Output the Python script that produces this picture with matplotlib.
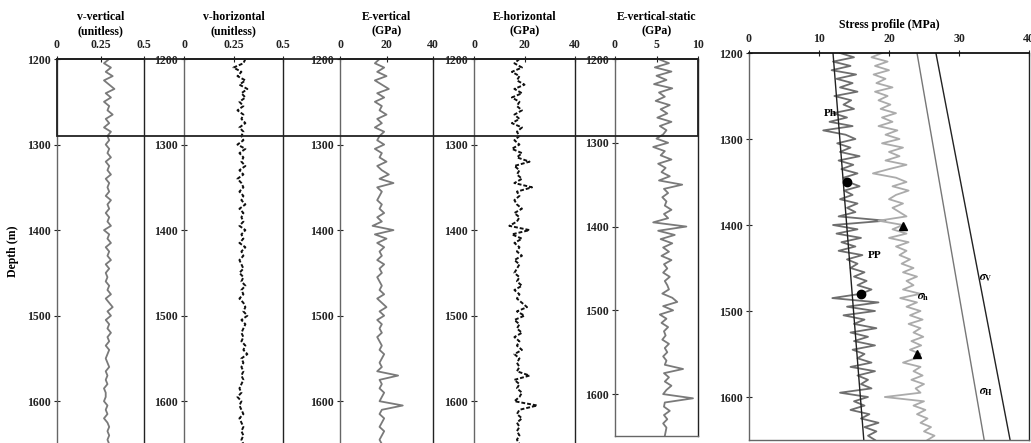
import numpy as np
import matplotlib
matplotlib.use("Agg")
import matplotlib.pyplot as plt
from matplotlib.patches import Rectangle

# ---------------- data ----------------
depth = np.arange(1200, 1655, 5)  # m, 91 samples

v_vertical = [0.30,0.27,0.31,0.28,0.32,0.27,0.30,0.33,0.28,0.31,0.27,0.30,0.29,0.32,0.28,0.30,0.27,0.31,0.29,
              0.30,0.28,0.30,0.29,0.31,0.28,0.30,0.29,0.31,0.28,0.30,0.29,0.30,0.28,0.31,0.29,0.30,0.28,0.30,0.29,
              0.31,0.27,0.30,0.29,0.31,0.28,0.30,0.29,0.31,0.28,0.30,0.28,0.29,0.28,0.30,0.29,0.31,0.28,0.30,0.32,
              0.29,0.31,0.28,0.30,0.29,0.31,0.29,0.30,0.28,0.30,0.29,0.28,0.29,0.30,0.28,0.29,0.28,0.29,0.27,0.28,
              0.28,0.27,0.29,0.28,0.29,0.27,0.29,0.30,0.29,0.30,0.29,0.30]

v_horizontal = [0.31,0.30,0.25,0.29,0.27,0.31,0.28,0.32,0.29,0.31,0.28,0.30,0.27,0.30,0.29,0.31,0.28,0.30,0.29,
                0.30,0.27,0.31,0.28,0.30,0.29,0.31,0.28,0.30,0.27,0.29,0.30,0.28,0.30,0.29,0.31,0.28,0.30,0.29,0.30,
                0.28,0.31,0.29,0.30,0.28,0.31,0.29,0.30,0.28,0.29,0.30,0.28,0.30,0.29,0.31,0.29,0.30,0.28,0.30,0.31,
                0.30,0.32,0.29,0.31,0.30,0.29,0.30,0.29,0.31,0.30,0.32,0.29,0.30,0.29,0.30,0.29,0.30,0.29,0.28,0.29,
                0.27,0.29,0.28,0.29,0.30,0.28,0.29,0.30,0.29,0.30,0.29,0.30]

e_vertical = [17,15,19,16,20,15,18,21,16,19,15,18,17,20,16,18,15,19,17,
              16,19,15,18,17,20,16,18,21,17,23,16,18,17,16,18,17,19,16,18,
              14,23,15,20,16,19,17,18,16,19,17,18,16,17,18,17,19,16,18,20,
              17,19,16,18,17,18,16,17,18,17,19,18,17,18,16,25,17,18,17,19,
              18,17,27,18,17,19,18,17,19,18,17,18]

e_horizontal = [18,16,19,15,18,17,20,16,19,15,18,17,19,16,18,15,19,17,18,
                16,18,15,19,17,22,16,18,17,19,16,23,17,18,16,17,19,16,18,17,
                14,22,15,19,16,18,17,19,16,18,17,16,18,17,19,16,18,17,19,21,
                17,20,16,18,17,19,16,18,17,19,16,18,17,18,17,22,16,18,17,19,
                18,16,25,18,17,19,17,18,17,18,17,18]

e_vertical_static = [5.2,6.5,4.8,6.8,5.0,6.2,4.7,6.9,5.3,6.0,4.9,6.6,5.5,6.3,5.1,6.8,5.4,6.2,5.8,
                     5.0,6.4,4.6,6.0,5.5,6.8,5.2,6.1,5.6,6.6,5.3,8.1,5.9,6.4,5.7,6.2,6.0,6.8,5.9,6.4,
                     4.6,8.6,5.2,7.2,5.5,6.9,5.8,6.5,5.6,6.8,5.9,6.3,5.8,6.6,6.0,6.3,6.5,5.7,6.9,7.5,
                     5.8,7.0,5.4,6.2,5.6,6.4,5.9,6.1,5.7,6.5,6.0,6.3,5.8,6.2,6.0,8.2,5.9,6.5,6.0,6.8,
                     6.2,5.8,9.4,6.0,5.9,6.6,5.9,6.3,5.8,6.2,6.1,6.0]

pore_pressure = [13.0,15.0,12.0,14.5,11.8,15.3,12.5,14.8,13.0,15.5,12.2,14.6,13.5,15.0,12.0,14.0,11.5,14.8,10.6,
                 13.8,15.2,12.6,14.5,13.0,15.8,12.8,14.9,13.2,15.5,13.5,14.2,15.8,13.6,14.8,13.0,15.5,14.0,15.2,12.8,
                 19.5,12.0,15.5,12.5,16.0,13.2,15.2,12.8,16.2,14.0,15.5,14.5,16.5,15.0,16.8,15.5,17.5,16.0,11.9,18.5,
                 14.0,18.0,13.5,16.5,15.0,18.2,14.5,17.0,15.0,18.0,14.8,16.5,15.5,17.5,14.5,18.0,15.5,17.0,16.0,17.5,
                 13.0,17.0,15.0,16.5,14.5,17.2,16.0,18.5,16.5,18.2,17.0,18.0]

sigma_h_log = [19.0,17.5,19.8,18.0,20.0,17.8,19.5,18.2,20.5,18.0,19.8,18.5,20.2,18.8,21.0,19.0,20.5,18.5,21.2,
               19.5,21.5,19.0,22.0,20.0,21.5,19.5,22.5,20.0,17.7,21.0,22.5,20.5,22.8,21.0,20.0,22.0,20.5,21.5,22.5,
               18.5,22.0,20.5,22.5,20.0,22.8,21.0,22.5,21.5,23.0,21.8,23.5,22.0,24.0,22.5,23.5,22.0,24.5,21.6,24.0,
               22.5,24.5,23.0,24.8,22.8,24.5,23.5,24.9,23.2,24.6,23.0,24.5,23.8,22.0,24.5,23.5,24.8,23.2,25.0,23.8,
               24.5,19.4,25.0,23.5,25.2,24.0,25.5,24.5,26.0,25.0,26.5,25.5]

line_depths = [1200, 1650]
ph_line = [12.0, 16.4]
sigma_H_line = [24.0, 33.6]
sigma_V_line = [26.7, 37.3]

circle_pts_x = [14.0, 16.0]
circle_pts_d = [1350, 1480]
triangle_pts_x = [22.0, 24.0]
triangle_pts_d = [1401, 1550]

panel_titles = ["v-vertical\n(unitless)", "v-horizontal\n(unitless)", "E-vertical\n(GPa)",
                "E-horizontal\n(GPa)", "E-vertical-static\n(GPa)"]
depth_ticks = [1200, 1300, 1400, 1500, 1600]

# ---------------- style ----------------
plt.rcParams['font.family'] = ['Liberation Serif', 'DejaVu Serif']
plt.rcParams['font.weight'] = 'bold'
plt.rcParams['mathtext.fontset'] = 'stix'

W, H = 1031, 443
fig = plt.figure(figsize=(W / 100, H / 100), dpi=100)


def pos(l, r, t, b):
    return [l / W, 1 - b / H, (r - l) / W, (b - t) / H]


GRAY = '#7a7a7a'
SPINE = '#666666'


def style_axis(ax, xlim, xticks, xlabels):
    ax.set_xlim(*xlim)
    ax.set_ylim(1650, 1200)
    ax.xaxis.tick_top()
    ax.set_xticks(xticks)
    ax.set_xticklabels(xlabels)
    ax.set_yticks(depth_ticks)
    ax.set_yticklabels([str(d) for d in depth_ticks])
    ax.tick_params(axis='both', direction='inout', length=5, width=0.8,
                   labelsize=8.5, colors='#222222')
    ax.tick_params(axis='x', top=True, bottom=False, pad=3)
    ax.tick_params(axis='y', pad=2)
    for s in ax.spines.values():
        s.set_color(SPINE)
        s.set_linewidth(1.0)
    ax.spines['right'].set_color('#222222')
    ax.spines['top'].set_color('#111111')
    ax.spines['top'].set_linewidth(1.3)


ax1 = fig.add_axes(pos(57, 144, 59, 444))
ax2 = fig.add_axes(pos(184, 283, 59, 444))
ax3 = fig.add_axes(pos(340, 433, 59, 444))
ax4 = fig.add_axes(pos(474, 575, 59, 444))
ax5 = fig.add_axes(pos(615, 698, 59, 436))
ax6 = fig.add_axes(pos(749, 1029, 53, 440))

ax1.plot(v_vertical, depth, color=GRAY, lw=1.3)
style_axis(ax1, (0, 0.5), [0, 0.25, 0.5], ["0", "0.25", "0.5"])

ax2.plot(v_horizontal, depth, color='#111111', lw=1.4, ls=(0, (2, 1)))
style_axis(ax2, (0, 0.5), [0, 0.25, 0.5], ["0", "0.25", "0.5"])

ax3.plot(e_vertical, depth, color=GRAY, lw=1.3)
style_axis(ax3, (0, 40), [0, 20, 40], ["0", "20", "40"])

ax4.plot(e_horizontal, depth, color='#111111', lw=1.4, ls=(0, (2, 1)))
style_axis(ax4, (0, 40), [0, 20, 40], ["0", "20", "40"])

ax5.plot(e_vertical_static, depth, color=GRAY, lw=1.3)
style_axis(ax5, (0, 10), [0, 5, 10], ["0", "5", "10"])

for ax, t in zip([ax1, ax2, ax3, ax4, ax5], panel_titles):
    ax.set_title(t, fontsize=8.5, fontweight='bold', pad=4, linespacing=1.15)

ax1.set_ylabel("Depth (m)", fontsize=8.5, fontweight='bold', labelpad=6)

# stress profile
ax6.plot(pore_pressure, depth, color='#6e6e6e', lw=1.3)
ax6.plot(sigma_h_log, depth, color='#ababab', lw=1.3)
ax6.plot(ph_line, line_depths, color='#222222', lw=1.0)
ax6.plot(sigma_H_line, line_depths, color='#777777', lw=1.0)
ax6.plot(sigma_V_line, line_depths, color='#222222', lw=1.0)
ax6.plot(circle_pts_x, circle_pts_d, 'o', color='black', ms=6)
ax6.plot(triangle_pts_x, triangle_pts_d, '^', color='black', ms=6)
style_axis(ax6, (0, 40), [0, 10, 20, 30, 40], ["0", "10", "20", "30", "40"])
ax6.set_title("Stress profile (MPa)", fontsize=8.5, fontweight='bold', pad=4)
ax6.text(11.6, 1270, "Ph", fontsize=8, fontweight='bold', ha='center', va='center')
ax6.text(18.0, 1435, "PP", fontsize=8, fontweight='bold', ha='center', va='center')
ax6.text(33.8, 1462, r"$\sigma_{\mathrm{V}}$", fontsize=8.5, ha='center', va='center')
ax6.text(24.9, 1484, r"$\sigma_{\mathrm{h}}$", fontsize=8.5, ha='center', va='center')
ax6.text(33.8, 1594, r"$\sigma_{\mathrm{H}}$", fontsize=8.5, ha='center', va='center')

# highlight rectangle over the upper interval
fig.canvas.draw()
inv = fig.transFigure.inverted()
x0, y_top = inv.transform(ax1.transData.transform((0, 1200)))
_, y_bot = inv.transform(ax1.transData.transform((0, 1290)))
x1, _ = inv.transform(ax5.transData.transform((10, 1200)))
rect = Rectangle((x0, y_bot), x1 - x0, y_top - y_bot, transform=fig.transFigure,
                 fill=False, edgecolor='#222222', lw=1.3, zorder=10)
fig.patches.append(rect)

fig.savefig("out.png", dpi=100)
